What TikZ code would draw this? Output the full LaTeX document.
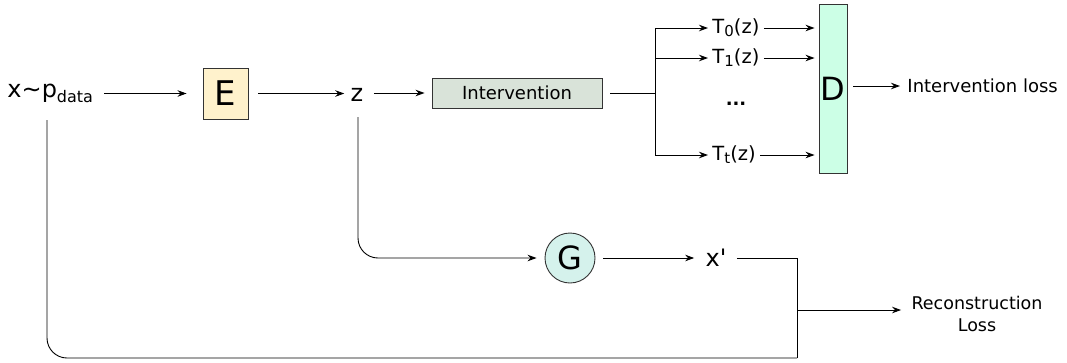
\documentclass[tikz,border=0pt]{standalone}
\usepackage{fontspec}
\setmainfont{DejaVu Sans}[Ligatures=TeXOff]
\usetikzlibrary{arrows.meta}
\definecolor{ecol}{HTML}{FFF2CC}
\definecolor{icol}{HTML}{D9E3D9}
\definecolor{dcol}{HTML}{CCFFE6}
\definecolor{gcol}{HTML}{D5F2EC}
\newcommand{\fs}[1]{\fontsize{#1}{#1}\selectfont}
\begin{document}
\begin{tikzpicture}[x=1pt,y=-1pt,
  line width=0.9pt,
  arr/.style={-{Stealth[length=9pt,width=6.5pt]}},
  lbl/.style={inner sep=0pt,font=\fs{24}},
  small/.style={inner sep=0pt,font=\fs{18}},
  tl/.style={inner sep=0pt,font=\fs{19.5}},
  blk/.style={draw=black!80,line width=0.9pt,inner sep=0pt}]
\useasboundingbox (0,0) rectangle (1067,362);
% nodes
\node[lbl,anchor=base west] (xp) at (7,97) {x∼p\raisebox{-5pt}{\fs{16}data}};
\node[blk,fill=ecol,minimum width=45pt,minimum height=51pt,font=\fs{34}] (E) at (225.5,93.5) {E};
\node[lbl,anchor=base] (z) at (357,101) {z};
\node[blk,fill=icol,minimum width=170pt,minimum height=30pt,font=\fs{18}] (I) at (517,93) {Intervention};
\coordinate (br) at (655,93);
\node[tl,anchor=west] (T0) at (712,28) {T\raisebox{-3pt}{\fs{15}0}(z)};
\node[tl,anchor=west] (T1) at (712,58) {T\raisebox{-3pt}{\fs{15}1}(z)};
\node[small,font=\fs{18}\bfseries] (dots) at (736,104) {...};
\node[tl,anchor=west] (Tt) at (712,155) {T\raisebox{-3pt}{\fs{15}t}(z)};
\node[blk,fill=dcol,minimum width=28pt,minimum height=169pt,font=\fs{32}] (D) at (833,88.5) {D};
\node[small,anchor=west] (IL) at (907,86) {Intervention loss};
\node[blk,circle,fill=gcol,minimum size=50pt,font=\fs{32}] (G) at (570,258) {G};
\node[lbl] (xq) at (716,258) {x'};
\coordinate (rv) at (797,258);
\coordinate (rb) at (797,358);
\coordinate (rm) at (797,310);
\node[small,align=center,font=\fs{17.5}] (RL) at (977,314) {Reconstruction\\[5pt]Loss};
% connectors
\draw[arr,shorten <=11pt,shorten >=16pt] (xp.east |- E.west) -- (E.west);
\draw[arr,shorten <=10pt,shorten >=6pt] (E.east) -- (z.west |- E.east);
\draw[arr,shorten <=10pt,shorten >=7pt] (z.east |- I.west) -- (I.west);
\draw[shorten <=8pt] (I.east) -- (br);
\draw (br |- T0.west) -- (br |- Tt.west);
\draw[arr,shorten >=4pt] (br |- T0.west) -- (T0.west);
\draw[arr,shorten >=4pt] (br |- T1.west) -- (T1.west);
\draw[arr,shorten >=4pt] (br |- Tt.west) -- (Tt.west);
\draw[arr,shorten <=4pt,shorten >=4pt] (T0.east) -- (D.west |- T0.east);
\draw[arr,shorten <=4pt,shorten >=4pt] (T1.east) -- (D.west |- T1.east);
\draw[arr,shorten <=4pt,shorten >=4pt] (Tt.east) -- (D.west |- Tt.east);
\draw[arr,shorten <=6pt,shorten >=7pt] (D.east |- IL.west) -- (IL.west);
\draw[arr,shorten >=8pt,rounded corners=20pt] (358,117) -- (358,258) -- (G.west);
\draw[arr,shorten <=8pt,shorten >=11pt] (G.east) -- (xq.west |- G.east);
\draw[shorten <=10pt] (xq.east) -- (rv) -- (rb);
\draw[rounded corners=20pt] (47,120) -- (47,358) -- (rb);
\draw[arr] (rm) -- ([xshift=-10pt]RL.west |- rm);
\end{tikzpicture}
\end{document}
